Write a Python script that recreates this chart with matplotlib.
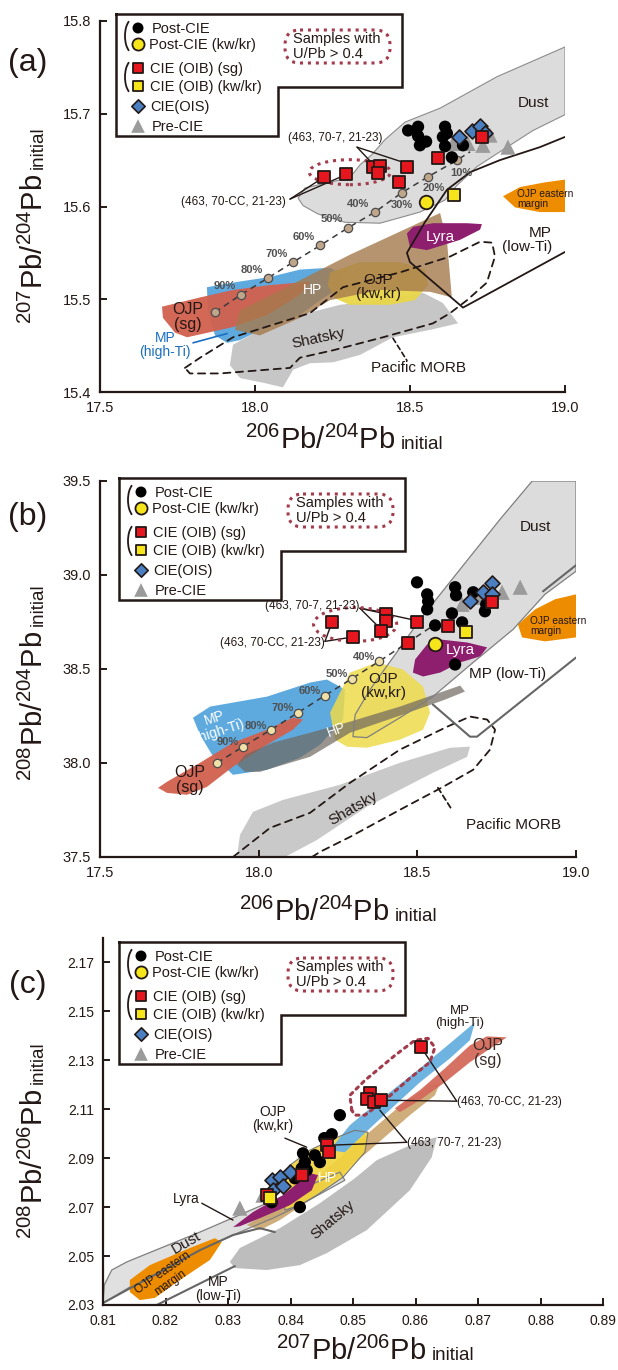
import matplotlib
matplotlib.use('Agg')
import matplotlib.pyplot as plt
from matplotlib.patches import Polygon, Ellipse, Arc, FancyBboxPatch

plt.rcParams['font.family'] = ['Liberation Sans', 'DejaVu Sans']
plt.rcParams['mathtext.fontset'] = 'custom'
plt.rcParams['mathtext.rm'] = 'Liberation Sans'
plt.rcParams['mathtext.it'] = 'Liberation Sans:italic'
plt.rcParams['mathtext.bf'] = 'Liberation Sans:bold'

INK = '#231815'
DOT = '#a23b4c'

# ---------------- panel (a): 206Pb/204Pb vs 207Pb/204Pb ----------------
A_DUST = [(18.139, 15.609), (18.161, 15.620), (18.226, 15.625), (18.306, 15.631), (18.339, 15.645),
          (18.377, 15.656), (18.419, 15.672), (18.484, 15.691), (18.597, 15.706), (18.781, 15.740),
          (19.000, 15.772), (19.000, 15.699), (18.897, 15.682), (18.813, 15.664), (18.716, 15.643),
          (18.652, 15.623), (18.613, 15.607), (18.532, 15.594), (18.468, 15.588), (18.403, 15.582),
          (18.290, 15.583), (18.203, 15.592), (18.155, 15.601)]
A_OJP_SG = [(17.700, 15.492), (17.823, 15.502), (17.929, 15.510), (18.039, 15.515), (18.177, 15.519),
            (18.145, 15.505), (18.039, 15.483), (17.929, 15.470), (17.781, 15.459), (17.742, 15.464),
            (17.703, 15.480)]
A_MP_HI = [(17.845, 15.513), (17.929, 15.518), (18.048, 15.524), (18.145, 15.532), (18.242, 15.534),
           (18.284, 15.526), (18.284, 15.515), (18.210, 15.499), (18.145, 15.483), (18.048, 15.472),
           (17.952, 15.456), (17.910, 15.453), (17.871, 15.461), (17.848, 15.488)]
A_HP = [(17.935, 15.467), (17.952, 15.488), (18.113, 15.515), (18.306, 15.548), (18.468, 15.573),
        (18.597, 15.593), (18.619, 15.564), (18.635, 15.502), (18.565, 15.508), (18.403, 15.510),
        (18.242, 15.499), (18.145, 15.480), (18.016, 15.461)]
A_OJP_KW = [(18.242, 15.529), (18.339, 15.540), (18.468, 15.540), (18.548, 15.532), (18.558, 15.515),
            (18.516, 15.499), (18.435, 15.494), (18.306, 15.494), (18.258, 15.501), (18.235, 15.515)]
A_SHATSKY = [(17.929, 15.451), (17.919, 15.429), (17.952, 15.415), (18.026, 15.410), (18.090, 15.405),
             (18.123, 15.424), (18.177, 15.431), (18.252, 15.432), (18.339, 15.440), (18.445, 15.459),
             (18.565, 15.467), (18.655, 15.474), (18.606, 15.496), (18.542, 15.507), (18.403, 15.499),
             (18.274, 15.494), (18.145, 15.483), (18.016, 15.467)]
A_LYRA = [(18.490, 15.571), (18.500, 15.556), (18.555, 15.553), (18.661, 15.564), (18.726, 15.575),
          (18.732, 15.581), (18.684, 15.582), (18.574, 15.582), (18.510, 15.578)]
A_OJP_EM = [(18.800, 15.611), (18.855, 15.621), (18.935, 15.626), (19.000, 15.629), (19.000, 15.594),
            (18.919, 15.594), (18.839, 15.599)]
A_MP_LO = [(19.000, 15.675), (18.919, 15.664), (18.790, 15.650), (18.694, 15.637), (18.619, 15.618),
           (18.548, 15.583), (18.490, 15.550), (18.500, 15.540), (18.671, 15.491), (19.000, 15.551)]
A_MORB = [(17.774, 15.426), (17.823, 15.437), (17.929, 15.459), (18.177, 15.485), (18.284, 15.513),
          (18.468, 15.529), (18.629, 15.546), (18.726, 15.562), (18.765, 15.561), (18.774, 15.546),
          (18.748, 15.518), (18.684, 15.499), (18.629, 15.485), (18.574, 15.474), (18.413, 15.459),
          (18.252, 15.445), (18.145, 15.437), (18.113, 15.426), (17.887, 15.420), (17.790, 15.420)]
A_MIX = [(17.871, 15.486), (17.955, 15.505), (18.042, 15.523), (18.123, 15.540), (18.210, 15.558),
         (18.300, 15.577), (18.387, 15.594), (18.474, 15.615), (18.558, 15.632), (18.652, 15.650)]
A_MIX_END = (18.694, 15.659)
A_MIX_LABELS = ['', '90%', '80%', '70%', '60%', '50%', '40%', '30%', '20%', '10%']

A_POST = [(18.494, 15.682), (18.526, 15.686), (18.526, 15.676), (18.532, 15.666), (18.552, 15.670),
          (18.613, 15.686), (18.606, 15.675), (18.619, 15.679), (18.613, 15.665), (18.635, 15.653),
          (18.671, 15.666)]
A_POST_KW = [(18.552, 15.605)]
A_CIE_SG = [(18.223, 15.632), (18.294, 15.635), (18.381, 15.643), (18.403, 15.644), (18.397, 15.636),
            (18.490, 15.643), (18.465, 15.626), (18.590, 15.652), (18.732, 15.675)]
A_CIE_KW = [(18.642, 15.612)]
A_OIS = [(18.658, 15.675), (18.700, 15.681), (18.726, 15.687), (18.742, 15.679)]
A_PRE = [(18.639, 15.668), (18.687, 15.668), (18.735, 15.666), (18.758, 15.677), (18.816, 15.664)]

# ---------------- panel (b): 206Pb/204Pb vs 208Pb/204Pb ----------------
B_DUST = [(18.862, 39.5), (19.0, 39.5), (19.0, 39.020), (18.902, 38.897), (18.802, 38.711),
          (18.676, 38.535), (18.549, 38.353), (18.445, 38.241), (18.341, 38.135), (18.297, 38.140),
          (18.304, 38.257), (18.351, 38.391), (18.430, 38.577), (18.509, 38.764), (18.635, 39.031),
          (18.761, 39.297)]
B_OJP_EM = [(18.817, 38.737), (18.871, 38.817), (18.934, 38.871), (19.0, 38.897), (19.0, 38.668),
            (18.902, 38.647), (18.830, 38.668)]
B_LYRA = [(18.486, 38.481), (18.493, 38.551), (18.531, 38.631), (18.572, 38.657), (18.657, 38.641),
          (18.720, 38.615), (18.698, 38.567), (18.635, 38.535), (18.572, 38.481), (18.518, 38.460)]
B_OJP_KW = [(18.241, 38.124), (18.225, 38.268), (18.288, 38.481), (18.373, 38.535), (18.455, 38.497),
            (18.518, 38.407), (18.540, 38.268), (18.518, 38.177), (18.445, 38.124), (18.341, 38.081),
            (18.278, 38.087)]
B_MP_HI = [(17.793, 38.241), (17.847, 38.300), (18.026, 38.353), (18.162, 38.428), (18.215, 38.444),
           (18.272, 38.391), (18.266, 38.231), (18.193, 38.097), (18.130, 38.028), (18.026, 37.964),
           (17.919, 37.937), (17.853, 38.044), (17.815, 38.151)]
B_OJP_SG = [(17.683, 37.868), (17.711, 37.900), (17.815, 38.001), (17.919, 38.108), (18.026, 38.177),
            (18.108, 38.241), (18.140, 38.231), (18.108, 38.177), (18.026, 38.097), (17.919, 37.980),
            (17.837, 37.873), (17.774, 37.831), (17.711, 37.841)]
B_HP = [(17.932, 37.991), (17.957, 38.044), (18.045, 38.108), (18.162, 38.161), (18.288, 38.220),
        (18.445, 38.300), (18.572, 38.375), (18.635, 38.412), (18.650, 38.380), (18.587, 38.337),
        (18.445, 38.252), (18.288, 38.161), (18.162, 38.033), (18.004, 37.953), (17.957, 37.953)]
B_SHATSKY = [(17.932, 37.5), (17.941, 37.617), (17.982, 37.740), (18.077, 37.804), (18.256, 37.884),
             (18.445, 38.001), (18.603, 38.081), (18.666, 38.087), (18.657, 38.033), (18.549, 37.948),
             (18.341, 37.767), (18.184, 37.591), (18.083, 37.5)]
B_MORB = [(17.919, 37.5), (18.036, 37.655), (18.162, 37.735), (18.288, 37.895), (18.445, 38.071),
          (18.594, 38.193), (18.666, 38.247), (18.720, 38.231), (18.745, 38.177), (18.729, 38.071),
          (18.676, 37.964), (18.581, 37.873), (18.445, 37.751), (18.288, 37.607), (18.193, 37.527),
          (18.168, 37.5)]
B_MP_LO_UP = [(19.0, 39.052), (18.896, 38.913)]
B_MP_LO = [(19.0, 38.561), (18.688, 38.140), (18.666, 38.140), (18.549, 38.311)]
B_MIX = [(17.869, 38.001), (17.951, 38.087), (18.039, 38.177), (18.124, 38.268), (18.209, 38.359),
         (18.294, 38.449), (18.379, 38.540)]
B_MIX_END = (18.556, 38.737)
B_MIX_LABELS = ['', '90%', '80%', '70%', '60%', '50%', '40%']

B_POST = [(18.499, 38.961), (18.531, 38.897), (18.534, 38.860), (18.531, 38.817), (18.619, 38.935),
          (18.622, 38.892), (18.609, 38.796), (18.641, 38.748), (18.556, 38.732), (18.676, 38.908),
          (18.713, 38.807), (18.717, 38.844), (18.619, 38.524)]
B_POST_KW = [(18.556, 38.631)]
B_CIE_SG = [(18.231, 38.748), (18.297, 38.668), (18.401, 38.791), (18.401, 38.753), (18.386, 38.700),
            (18.471, 38.636), (18.499, 38.748), (18.597, 38.727), (18.735, 38.855)]
B_CIE_KW = [(18.653, 38.695)]
B_OIS = [(18.666, 38.860), (18.707, 38.908), (18.735, 38.956), (18.735, 38.897)]
B_PRE = [(18.641, 38.844), (18.688, 38.881), (18.767, 38.908), (18.824, 38.935)]

# ---------------- panel (c): 207Pb/206Pb vs 208Pb/206Pb ----------------
C_DUST = [(0.8100, 2.0308), (0.8102, 2.0382), (0.8114, 2.0443), (0.8138, 2.0476), (0.8255, 2.0598),
          (0.8362, 2.0716), (0.8431, 2.0790), (0.8479, 2.0843), (0.8487, 2.0810), (0.8415, 2.0708),
          (0.8372, 2.0655), (0.8319, 2.0598), (0.8255, 2.0524), (0.8175, 2.0422)]
C_OJP_EM = [(0.8143, 2.0402), (0.8175, 2.0463), (0.8239, 2.0533), (0.8279, 2.0573), (0.8290, 2.0557),
            (0.8271, 2.0484), (0.8223, 2.0402), (0.8183, 2.0329), (0.8159, 2.0320), (0.8143, 2.0353)]
C_LYRA = [(0.8308, 2.0618), (0.8340, 2.0680), (0.8388, 2.0749), (0.8431, 2.0839), (0.8444, 2.0831),
          (0.8434, 2.0769), (0.8399, 2.0708), (0.8351, 2.0655), (0.8319, 2.0622)]
C_HP = [(0.8330, 2.0627), (0.8383, 2.0708), (0.8447, 2.0831), (0.8511, 2.0973), (0.8567, 2.1096),
        (0.8623, 2.1198), (0.8639, 2.1206), (0.8631, 2.1157), (0.8591, 2.1076), (0.8527, 2.0933),
        (0.8479, 2.0831), (0.8431, 2.0729), (0.8383, 2.0647), (0.8351, 2.0606)]
C_OJP_KW = [(0.8399, 2.0871), (0.8431, 2.0933), (0.8471, 2.0982), (0.8503, 2.1014), (0.8524, 2.1006),
            (0.8519, 2.0924), (0.8484, 2.0822), (0.8442, 2.0749), (0.8415, 2.0708), (0.8391, 2.0688),
            (0.8388, 2.0769)]
C_MP_HI = [(0.8463, 2.0933), (0.8495, 2.1035), (0.8543, 2.1137), (0.8607, 2.1267), (0.8655, 2.1369),
           (0.8695, 2.1455), (0.8687, 2.1382), (0.8655, 2.1308), (0.8607, 2.1210), (0.8567, 2.1116),
           (0.8527, 2.1022), (0.8487, 2.0924)]
C_OJP_SG = [(0.8567, 2.1104), (0.8607, 2.1178), (0.8647, 2.1267), (0.8687, 2.1361), (0.8714, 2.1398),
            (0.8746, 2.1394), (0.8727, 2.1361), (0.8687, 2.1292), (0.8647, 2.1210), (0.8607, 2.1137),
            (0.8575, 2.1088)]
C_SHATSKY = [(0.8303, 2.0476), (0.8319, 2.0533), (0.8383, 2.0614), (0.8447, 2.0716), (0.8503, 2.0818),
             (0.8538, 2.0892), (0.8602, 2.0965), (0.8634, 2.0986), (0.8626, 2.0904), (0.8591, 2.0769),
             (0.8522, 2.0606), (0.8458, 2.0512), (0.8415, 2.0463), (0.8362, 2.0443), (0.8311, 2.0451)]
C_MP_LO_1 = [(0.8100, 2.0308), (0.8255, 2.0524), (0.8308, 2.0586), (0.8351, 2.0614), (0.8375, 2.0598)]
C_MP_LO_2 = [(0.8186, 2.0300), (0.8311, 2.0459)]
C_UPB = [(0.8498, 2.1096), (0.8495, 2.1157), (0.8519, 2.1218), (0.8567, 2.1320), (0.8599, 2.1382),
         (0.8620, 2.1390), (0.8631, 2.1353), (0.8623, 2.1292), (0.8591, 2.1227), (0.8551, 2.1137),
         (0.8519, 2.1076), (0.8503, 2.1076)]

C_POST = [(0.8420, 2.0920), (0.8423, 2.0884), (0.8418, 2.0859), (0.8415, 2.0700), (0.8370, 2.0720),
          (0.8454, 2.0982), (0.8466, 2.0998), (0.8447, 2.0884), (0.8426, 2.0851), (0.8479, 2.1076),
          (0.8439, 2.0912), (0.8407, 2.0818)]
C_POST_KW = []
C_CIE_SG = [(0.8609, 2.1353), (0.8527, 2.1165), (0.8522, 2.1141), (0.8534, 2.1129), (0.8545, 2.1137),
            (0.8458, 2.0953), (0.8462, 2.0924), (0.8418, 2.0831), (0.8362, 2.0749)]
C_CIE_KW = [(0.8367, 2.0737)]
C_OIS = [(0.8370, 2.0810), (0.8383, 2.0822), (0.8399, 2.0843), (0.8372, 2.0769), (0.8388, 2.0786)]
C_PRE = [(0.8319, 2.0696), (0.8356, 2.0749)]

LEGEND_LABELS = ['Post-CIE', 'Post-CIE (kw/kr)', 'CIE (OIB) (sg)', 'CIE (OIB) (kw/kr)', 'CIE(OIS)', 'Pre-CIE']

W, H = 618.0, 1370.0
fig = plt.figure(figsize=(6.18, 13.7), dpi=100)


def px_axes(l, t, r, b):
    return fig.add_axes([l / W, 1 - b / H, (r - l) / W, (b - t) / H])


axa = px_axes(100, 21, 565, 392)
axb = px_axes(100, 481, 576, 857)
axc = px_axes(103, 938, 603, 1305)


def style(ax, xlim, ylim, xt, yt, xf, yf, ls=10.5):
    ax.set_xlim(*xlim)
    ax.set_ylim(*ylim)
    ax.patch.set_alpha(0)
    for s in ['top', 'right']:
        ax.spines[s].set_visible(False)
    for s in ['left', 'bottom']:
        ax.spines[s].set_linewidth(1.6)
        ax.spines[s].set_color(INK)
        ax.spines[s].set_zorder(20)
    ax.set_xticks(xt)
    ax.set_yticks(yt)
    ax.set_xticklabels([xf % v for v in xt])
    ax.set_yticklabels([yf % v for v in yt])
    ax.tick_params(direction='in', length=5, width=1.4, colors=INK, labelsize=ls, pad=6.5)


def field(ax, pts, fc, alpha=1.0, z=1):
    ax.add_patch(Polygon(pts, closed=True, facecolor=fc, edgecolor='none', alpha=alpha, zorder=z,
                         joinstyle='round'))


def line(ax, pts, color=INK, lw=1.2, ls='-', closed=False, z=6):
    xs = [p[0] for p in pts]
    ys = [p[1] for p in pts]
    if closed:
        xs.append(xs[0])
        ys.append(ys[0])
    ax.plot(xs, ys, color=color, lw=lw, ls=ls, zorder=z, solid_joinstyle='round',
            dash_joinstyle='round', solid_capstyle='round', dash_capstyle='round')


def sc(ax, pts, kind, clip=True, scale=1.0):
    if not pts:
        return
    xs = [p[0] for p in pts]
    ys = [p[1] for p in pts]
    st = {
        'pre': dict(marker='^', s=120, c='#9b9b9b', edgecolors='none', zorder=11),
        'post': dict(marker='o', s=78, c='black', edgecolors='none', zorder=12),
        'ois': dict(marker='D', s=58, c='#4a7fc1', edgecolors=INK, linewidths=1.2, zorder=13),
        'sg': dict(marker='s', s=72, c='#e5161d', edgecolors=INK, linewidths=1.3, zorder=14),
        'kw': dict(marker='s', s=72, c='#f5e51a', edgecolors=INK, linewidths=1.3, zorder=14),
        'postkw': dict(marker='o', s=95, c='#f5e51a', edgecolors=INK, linewidths=1.3, zorder=14),
    }[kind]
    st['s'] = st['s'] * scale
    ax.scatter(xs, ys, clip_on=clip, **st)


def samples(ax, post, postkw, sg, kw, ois, pre):
    sc(ax, pre, 'pre')
    sc(ax, post, 'post')
    sc(ax, ois, 'ois')
    sc(ax, sg, 'sg')
    sc(ax, kw, 'kw')
    sc(ax, postkw, 'postkw')


def mixing(ax, pts, end, labels, fc, offsets):
    xs = [p[0] for p in pts] + [end[0]]
    ys = [p[1] for p in pts] + [end[1]]
    ax.plot(xs, ys, ls=(0, (4, 3)), color='#3a3a3a', lw=1.1, zorder=8)
    ax.scatter(xs[:-1], ys[:-1], s=36, c=fc, edgecolors='#4d4d4d', linewidths=0.9, zorder=9)
    for (x, y), lab, off in zip(pts, labels, offsets):
        if lab:
            ax.annotate(lab, (x, y), xytext=off, textcoords='offset points', ha='center', va='center',
                        fontsize=8, fontweight='bold', color='#505050', zorder=9)


def label(ax, x, y, s, fs=11, color=INK, rot=0, ha='center', z=16, **kw):
    ax.text(x, y, s, fontsize=fs, color=color, rotation=rot, ha=ha, va='center', zorder=z,
            linespacing=1.0, rotation_mode='anchor', **kw)


# ================= panel (a) =================
style(axa, (17.5, 19.0), (15.4, 15.8), [17.5, 18.0, 18.5, 19.0], [15.4, 15.5, 15.6, 15.7, 15.8],
      '%.1f', '%.1f')
field(axa, A_SHATSKY, '#c6c6c6', z=1)
field(axa, A_DUST, '#dcdcdc', z=1)
axa.add_patch(Polygon(A_DUST, closed=True, fill=False, edgecolor='#8c8c8c', lw=0.8, zorder=5))
field(axa, A_MP_HI, '#5eaadf', z=2)
field(axa, A_OJP_SG, '#d2604e', alpha=0.95, z=3)
field(axa, A_OJP_KW, '#e9d64a', alpha=0.95, z=3)
field(axa, A_HP, '#a57a4c', alpha=0.8, z=4)
field(axa, A_LYRA, '#8e1e6e', z=5)
field(axa, A_OJP_EM, '#ee8c00', z=5)
line(axa, A_MORB, lw=1.3, ls=(0, (4, 3)), closed=True, z=6)
line(axa, A_MP_LO, lw=1.3, z=6)
mixing(axa, A_MIX, A_MIX_END, A_MIX_LABELS, '#bfa58a',
       [(0, 0)] + [(-12, 6)] * 6 + [(0, -9), (4, -8), (3, -9)])
axa.add_patch(Ellipse((18.306, 15.637), 0.262, 0.027, fill=False, edgecolor=DOT, lw=2.2,
                      ls=(0, (1, 1.6)), zorder=10))
samples(axa, A_POST, A_POST_KW, A_CIE_SG, A_CIE_KW, A_OIS, A_PRE)

label(axa, 18.897, 15.712, 'Dust', 11)
label(axa, 18.845, 15.608, 'OJP eastern\nmargin', 7.3, ha='left')
label(axa, 18.958, 15.5634, 'MP\n(low-Ti)', 11, ha='right', multialignment='right')
label(axa, 18.597, 15.567, 'Lyra', 11, color='white')
label(axa, 18.397, 15.5137, 'OJP\n(kw,kr)', 11)
label(axa, 18.187, 15.510, 'HP', 10, color='white')
label(axa, 18.203, 15.458, 'Shatsky', 11, rot=12)
label(axa, 18.526, 15.426, 'Pacific MORB', 11)
label(axa, 17.784, 15.481, 'OJP\n(sg)', 11.5)
label(axa, 17.710, 15.451, 'MP\n(high-Ti)', 10, color='#1a6fc0')
line(axa, [(17.800, 15.453), (17.910, 15.463)], color='#1a6fc0', lw=1.2)
line(axa, [(18.445, 15.458), (18.490, 15.434)], lw=1.2, ls=(0, (3, 2)))
label(axa, 18.258, 15.674, '(463, 70-7, 21-23)', 8.5)
line(axa, [(18.329, 15.664), (18.377, 15.647)], lw=1.0)
line(axa, [(18.329, 15.664), (18.484, 15.647)], lw=1.0)
label(axa, 17.929, 15.605, '(463, 70-CC, 21-23)', 8.5)
line(axa, [(18.113, 15.608), (18.210, 15.629)], lw=1.0)
line(axa, [(18.113, 15.608), (18.284, 15.633)], lw=1.0)

# ================= panel (b) =================
style(axb, (17.5, 19.0), (37.5, 39.5), [17.5, 18.0, 18.5, 19.0], [37.5, 38.0, 38.5, 39.0, 39.5],
      '%.1f', '%.1f')
field(axb, B_SHATSKY, '#c9c9c9', z=1)
field(axb, B_DUST, '#dcdcdc', z=1)
field(axb, B_MP_HI, '#5eaadf', z=2)
field(axb, B_OJP_KW, '#eedb4a', alpha=0.85, z=3)
field(axb, B_OJP_SG, '#d2604e', alpha=0.95, z=3)
field(axb, B_HP, '#6f675f', alpha=0.7, z=4)
field(axb, B_LYRA, '#8e1e6e', z=5)
field(axb, B_OJP_EM, '#ee8c00', z=5)
axb.add_patch(Polygon(B_DUST, closed=True, fill=False, edgecolor='#7f7f7f', lw=0.9, zorder=5))
line(axb, B_MORB, lw=1.3, ls=(0, (4, 3)), z=6)
line(axb, B_MP_LO, color='#666666', lw=1.5, z=6)
line(axb, B_MP_LO_UP, color='#666666', lw=1.5, z=6)
mixing(axb, B_MIX, B_MIX_END, B_MIX_LABELS, '#f0dfa6', [(0, 0)] + [(-11, 3)] * 6)
axb.add_patch(Ellipse((18.304, 38.737), 0.262, 0.18, fill=False, edgecolor=DOT, lw=2.2,
                      ls=(0, (1, 1.6)), zorder=10))
samples(axb, B_POST, B_POST_KW, B_CIE_SG, B_CIE_KW, B_OIS, B_PRE)

label(axb, 18.871, 39.255, 'Dust', 11)
label(axb, 18.855, 38.727, 'OJP eastern\nmargin', 7.3, ha='left')
label(axb, 18.635, 38.599, 'Lyra', 11, color='white')
label(axb, 18.783, 38.471, 'MP (low-Ti)', 11)
label(axb, 18.392, 38.407, 'OJP\n(kw,kr)', 11)
label(axb, 18.247, 38.177, 'HP', 10, color='white', rot=20)
label(axb, 17.869, 38.204, 'MP\n(high-Ti)', 10, color='white', rot=18)
label(axb, 17.784, 37.911, 'OJP\n(sg)', 11.5)
label(axb, 18.297, 37.761, 'Shatsky', 11, rot=30)
label(axb, 18.802, 37.671, 'Pacific MORB', 11)
line(axb, [(18.565, 37.868), (18.609, 37.751)], lw=1.3, ls=(0, (3, 2)))
label(axb, 18.168, 38.833, '(463, 70-7, 21-23)', 8.5)
for tgt in [(18.395, 38.801), (18.386, 38.711), (18.493, 38.759)]:
    line(axb, [(18.319, 38.823), tgt], lw=1.0)
label(axb, 18.042, 38.636, '(463, 70-CC, 21-23)', 8.5)
for tgt in [(18.231, 38.748), (18.288, 38.668)]:
    line(axb, [(18.209, 38.647), tgt], lw=1.0)

# ================= panel (c) =================
style(axc, (0.81, 0.89), (2.03, 2.18), [0.81 + 0.01 * i for i in range(9)],
      [2.03 + 0.02 * i for i in range(8)], '%.2f', '%.2f', ls=10)
field(axc, C_DUST, '#e0e0e0', z=1)
axc.add_patch(Polygon(C_DUST, closed=True, fill=False, edgecolor='#7f7f7f', lw=0.9, zorder=5))
field(axc, C_SHATSKY, '#bdbdbd', z=1)
field(axc, C_HP, '#c49a5a', alpha=0.8, z=2)
field(axc, C_OJP_KW, '#f2d43c', alpha=0.9, z=3)
axc.add_patch(Polygon(C_OJP_KW, closed=True, fill=False, edgecolor='#777777', lw=0.8, zorder=5))
field(axc, C_MP_HI, '#6fb3e0', z=3)
field(axc, C_OJP_SG, '#d46a5c', alpha=0.95, z=4)
field(axc, C_LYRA, '#8e1e6e', z=5)
field(axc, C_OJP_EM, '#ee8c00', z=5)
line(axc, C_MP_LO_1, color='#666666', lw=1.5, z=6)
line(axc, C_MP_LO_2, color='#666666', lw=1.5, z=6)
line(axc, C_UPB, color=DOT, lw=2.2, ls=(0, (1, 1.6)), closed=True, z=10)
samples(axc, C_POST, C_POST_KW, C_CIE_SG, C_CIE_KW, C_OIS, C_PRE)

label(axc, 0.8671, 2.1476, 'MP\n(high-Ti)', 9.5)
label(axc, 0.8716, 2.1329, 'OJP\n(sg)', 11.5, color='#3a2a26')
label(axc, 0.8372, 2.1059, 'OJP\n(kw,kr)', 10)
line(axc, [(0.8391, 2.0982), (0.8426, 2.0945)], lw=1.0)
label(axc, 0.8234, 2.0733, 'Lyra', 10)
line(axc, [(0.8258, 2.0716), (0.8308, 2.0647)], lw=1.0)
label(axc, 0.8460, 2.0818, 'HP', 10, color='white')
label(axc, 0.8468, 2.0647, 'Shatsky', 10.5, rot=40)
label(axc, 0.8234, 2.0553, 'Dust', 11, rot=30)
label(axc, 0.8202, 2.0410, 'OJP eastern\nmargin', 8.5, rot=35)
label(axc, 0.8284, 2.0365, 'MP\n(low-Ti)', 10)
label(axc, 0.8666, 2.1129, '(463, 70-CC, 21-23)', 8.5, ha='left')
for tgt in [(0.8609, 2.1353), (0.8545, 2.1137)]:
    line(axc, [(0.8666, 2.1133), tgt], lw=1.0)
label(axc, 0.8586, 2.0961, '(463, 70-7, 21-23)', 8.5, ha='left')
for tgt in [(0.8462, 2.0953), (0.8543, 2.1096)]:
    line(axc, [(0.8586, 2.0965), tgt], lw=1.0)

# ================= axis titles (ratio + smaller "initial" on the same baseline) =================
renderer = fig.canvas.get_renderer()


def axis_title(main, centre, base, vertical):
    rot = 90 if vertical else 0
    t1 = fig.text(0, 0, main, fontsize=21, color=INK, rotation=rot, rotation_mode='anchor',
                  ha='left', va='baseline')
    t2 = fig.text(0, 0, 'initial', fontsize=13.5, color=INK, rotation=rot, rotation_mode='anchor',
                  ha='left', va='baseline')
    e1 = t1.get_window_extent(renderer=renderer)
    e2 = t2.get_window_extent(renderer=renderer)
    gap = 5
    if vertical:
        l1, l2 = e1.height, e2.height
        start = centre + (l1 + gap + l2) / 2.0          # pixel row of text start (bottom)
        t1.set_position((base / W, 1 - start / H))
        t2.set_position((base / W, 1 - (start - l1 - gap) / H))
    else:
        l1, l2 = e1.width, e2.width
        start = centre - (l1 + gap + l2) / 2.0
        t1.set_position((start / W, 1 - base / H))
        t2.set_position(((start + l1 + gap) / W, 1 - base / H))


axis_title(r'$^{207}$Pb/$^{204}$Pb', 225, 43, True)
axis_title(r'$^{208}$Pb/$^{204}$Pb', 682, 43, True)
axis_title(r'$^{208}$Pb/$^{206}$Pb', 1140, 43, True)
axis_title(r'$^{206}$Pb/$^{204}$Pb', 344, 449, False)
axis_title(r'$^{206}$Pb/$^{204}$Pb', 338, 921, False)
axis_title(r'$^{207}$Pb/$^{206}$Pb', 375, 1360, False)

for s, cy in [('(a)', 63), ('(b)', 517), ('(c)', 985)]:
    fig.text(28 / W, 1 - cy / H, s, ha='center', va='center', fontsize=23, color=INK)

# ================= legend boxes (figure pixel space) =================
ov = fig.add_axes([0, 0, 1, 1], zorder=30)
ov.set_xlim(0, W)
ov.set_ylim(H, 0)
ov.axis('off')


def legend_box(x0, y0):
    bx = [x0, x0 + 286, x0 + 286, x0 + 162, x0 + 162, x0, x0]
    by = [y0, y0, y0 + 73, y0 + 73, y0 + 122, y0 + 122, y0]
    ov.fill(bx, by, color='white', zorder=1)
    ov.plot(bx, by, color=INK, lw=1.8, zorder=2, solid_joinstyle='miter')
    rows = [14, 30, 54, 72, 92, 112]
    kinds = ['post', 'postkw', 'sg', 'kw', 'ois', 'pre']
    tx = [36, 33, 34, 34, 34, 36]
    for r, k, t, lab in zip(rows, kinds, tx, LEGEND_LABELS):
        sc(ov, [(x0 + 22, y0 + r)], k, clip=False, scale=0.8)
        ov.text(x0 + t, y0 + r + 1, lab, fontsize=10.5, color=INK, ha='left', va='center', zorder=3)
    for cy in [y0 + 22, y0 + 63]:
        ov.add_patch(Arc((x0 + 17, cy), 16, 34, theta1=105, theta2=255, color=INK, lw=1.3, zorder=3))
    ov.add_patch(FancyBboxPatch((x0 + 169, y0 + 16), 105, 33, boxstyle='round,pad=0,rounding_size=15',
                                fill=False, edgecolor=DOT, lw=2.2, ls=(0, (1, 1.6)), zorder=3))
    ov.text(x0 + 177, y0 + 25, 'Samples with', fontsize=10.5, color=INK, ha='left', va='center', zorder=4)
    ov.text(x0 + 177, y0 + 40, 'U/Pb > 0.4', fontsize=10.5, color=INK, ha='left', va='center', zorder=4)


legend_box(116, 14)
legend_box(119, 478)
legend_box(119, 942)

fig.savefig('out.png', dpi=100)
